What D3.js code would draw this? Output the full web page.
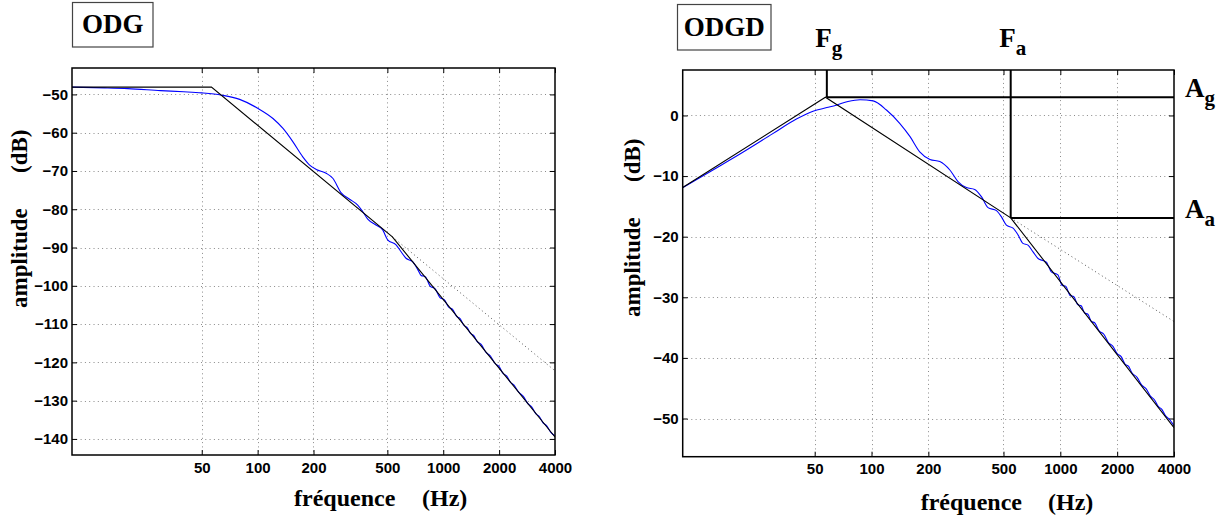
<!DOCTYPE html>
<html><head><meta charset="utf-8">
<script src="https://cdn.jsdelivr.net/npm/d3@7"></script>
<style>
body{margin:0;background:#fff;}
svg{display:block;}
.tk text{font-family:'Liberation Sans',Arial,sans-serif;font-weight:bold;font-size:15px;fill:#000;}
.lab{font-family:'Liberation Serif','Times New Roman',serif;font-weight:bold;fill:#000;}
</style></head><body>
<svg id="chart" width="1226" height="520"></svg>
<script>
// ---------- shared ----------
const xDomain = [10, 4000];
const xTicks = [50, 100, 200, 500, 1000, 2000, 4000];

// ---------- left panel (ODG) ----------
const yDomainL = [-144.2, -43.1];
const yTicksL = [-50, -60, -70, -80, -90, -100, -110, -120, -130, -140];
const asymFreqL = [10, 56.4, 532, 4000];
const asymDbL = [-48.1, -48.1, -87.2, -139.5];
const extFreqL = [532, 4000];
const extDbL = [-87.2, -122.2];
const blueFreqL = [10, 15, 20, 30, 40, 50, 64, 80, 100, 121, 137, 155, 175, 190, 207, 234, 254, 282, 313, 346, 368, 392, 434, 472, 502, 557, 593, 630, 684, 728, 760, 800, 850, 905, 960, 1015, 1070, 1125, 1180, 1235, 1290, 1345, 1400, 1460, 1520, 1600, 1700, 1800, 1900, 2000, 2100, 2200, 2300, 2400, 2550, 2700, 2850, 3000, 3150, 3300, 3450, 3600, 3800, 4000];
const blueDbL = [-48.1, -48.3, -48.5, -49.0, -49.3, -49.6, -50.2, -51.3, -53.6, -56.3, -58.9, -62.4, -66.3, -68.4, -69.6, -70.6, -71.9, -75.7, -77.4, -78.9, -80.6, -82.6, -84.1, -85.4, -88.0, -89.3, -91.1, -92.8, -93.7, -95.7, -97.3, -97.6, -100.1, -100.8, -103.1, -103.7, -105.6, -106.2, -108.0, -108.6, -110.3, -110.9, -112.4, -113.0, -114.5, -115.3, -117.4, -118.4, -120.3, -121.1, -122.9, -123.6, -125.2, -125.9, -127.8, -128.9, -130.7, -131.7, -133.4, -134.2, -135.8, -136.5, -138.3, -139.2];

// ---------- right panel (ODGD) ----------
const yDomainR = [-56.3, 7.5];
const yTicksR = [0, -10, -20, -30, -40, -50];
const asymFreqR = [10, 57, 546, 4000];
const asymDbR = [-11.9, 3.0, -16.9, -51.5];
const extFreqR = [546, 4000];
const extDbR = [-16.9, -34.0];
const blueFreqR = [10, 15, 20, 30, 40, 49, 58, 65, 75, 87, 102, 120, 141, 160, 180, 204, 230, 260, 287, 318, 352, 382, 414, 459, 487, 518, 562, 597, 634, 674, 717, 762, 800, 843, 896, 971, 1020, 1070, 1125, 1180, 1235, 1290, 1345, 1400, 1460, 1520, 1600, 1700, 1800, 1900, 2000, 2100, 2200, 2300, 2400, 2550, 2700, 2850, 3000, 3150, 3300, 3450, 3600, 3800, 4000];
const blueDbR = [-11.9, -8.7, -6.4, -3.0, -0.6, 0.7, 1.3, 1.7, 2.3, 2.6, 2.4, 0.9, -1.3, -3.5, -6.0, -7.25, -7.6, -9.0, -10.9, -11.9, -12.2, -13.4, -15.2, -15.7, -16.7, -18.1, -18.6, -19.7, -21.1, -21.4, -22.5, -23.6, -23.9, -24.2, -25.8, -26.3, -28.0, -28.2, -29.7, -29.9, -31.2, -31.4, -32.6, -32.8, -34.0, -34.2, -35.5, -36.1, -37.5, -38.1, -39.3, -39.8, -41.0, -41.4, -42.5, -43.2, -44.5, -45.1, -46.3, -46.9, -48.0, -48.5, -49.5, -50.2, -51.2];
const markerFreqs = [58, 546];        // Fg, Fa
const markerDbs = [3.0, -16.9];       // Ag, Aa
const markerFreqLabels = ["F", "F"];
const markerFreqSubs = ["g", "a"];
const markerDbLabels = ["A", "A"];
const markerDbSubs = ["g", "a"];

const svg = d3.select("#chart");

function panel(cfg) {
  const {x0, y0, w, h} = cfg;
  const x = d3.scaleLog().domain(xDomain).range([x0, x0 + w]);
  const y = d3.scaleLinear().domain(cfg.yDomain).range([y0 + h, y0]);
  const g = svg.append("g");
  const clipId = "clip" + cfg.id;
  svg.append("clipPath").attr("id", clipId).append("rect")
    .attr("x", x0).attr("y", y0).attr("width", w).attr("height", h);

  // grid
  const grid = g.append("g").attr("stroke", "#8a8a8a").attr("stroke-width", 1).attr("stroke-dasharray", "1,3.3");
  grid.selectAll(".gx").data(xTicks.filter(d => d < xDomain[1])).join("line")
    .attr("x1", d => Math.round(x(d)) + 0.5).attr("x2", d => Math.round(x(d)) + 0.5)
    .attr("y1", y0).attr("y2", y0 + h);
  grid.selectAll(".gy").data(cfg.yTicks).join("line")
    .attr("y1", d => Math.round(y(d)) + 0.5).attr("y2", d => Math.round(y(d)) + 0.5)
    .attr("x1", x0).attr("x2", x0 + w);

  const fmt = d3.format("d");
  const ax = (gen, tx, ty, labels, pad) => {
    const a = g.append("g").attr("class", "tk").attr("transform", `translate(${tx},${ty})`)
      .call(gen.tickSizeInner(-5).tickSizeOuter(0).tickPadding(pad).tickFormat(labels ? fmt : () => ""));
    a.select(".domain").remove();
    a.selectAll(".tick line").attr("stroke", "#000").attr("stroke-width", 1);
    return a;
  };
  ax(d3.axisBottom(x).tickValues(xTicks), 0, y0 + h, true, 7);
  ax(d3.axisTop(x).tickValues(xTicks), 0, y0, false, 0);
  ax(d3.axisLeft(y).tickValues(cfg.yTicks), x0, 0, true, cfg.ypad);
  ax(d3.axisRight(y).tickValues(cfg.yTicks), x0 + w, 0, false, 0);

  const plot = g.append("g").attr("clip-path", `url(#${clipId})`);
  const lineStraight = d3.line().x(d => x(d[0])).y(d => y(d[1]));
  const lineSmooth = d3.line().x(d => x(d[0])).y(d => y(d[1])).curve(d3.curveMonotoneX);

  plot.append("path").datum(cfg.extF.map((f, i) => [f, cfg.extD[i]]))
    .attr("d", lineStraight).attr("fill", "none").attr("stroke", "#555")
    .attr("stroke-width", 1).attr("stroke-dasharray", "1,3");
  plot.append("path").datum(cfg.blueF.map((f, i) => [f, cfg.blueD[i]]))
    .attr("d", lineSmooth).attr("fill", "none").attr("stroke", "#0000ff").attr("stroke-width", 1.1);
  plot.append("path").datum(cfg.asymF.map((f, i) => [f, cfg.asymD[i]]))
    .attr("d", lineStraight).attr("fill", "none").attr("stroke", "#000").attr("stroke-width", 1.1);

  if (cfg.markers) {
    markerFreqs.forEach((f, i) => {
      plot.append("line").attr("x1", x(f)).attr("x2", x(f)).attr("y1", y0).attr("y2", y(markerDbs[i]))
        .attr("stroke", "#000").attr("stroke-width", 2);
      plot.append("line").attr("x1", x(f)).attr("x2", x0 + w).attr("y1", y(markerDbs[i])).attr("y2", y(markerDbs[i]))
        .attr("stroke", "#000").attr("stroke-width", 2);
      const t = svg.append("text").attr("class", "lab").attr("x", x(f) + 2).attr("y", y0 - 23)
        .attr("text-anchor", "middle").style("font-size", "27px");
      t.append("tspan").text(markerFreqLabels[i]);
      t.append("tspan").attr("dy", 8).style("font-size", "21px").text(markerFreqSubs[i]);
      const t2 = svg.append("text").attr("class", "lab").attr("x", x0 + w + 11).attr("y", y(markerDbs[i]))
        .style("font-size", "27px");
      t2.append("tspan").text(markerDbLabels[i]);
      t2.append("tspan").attr("dy", 8).style("font-size", "21px").text(markerDbSubs[i]);
    });
  }

  // box
  g.append("rect").attr("x", x0).attr("y", y0).attr("width", w).attr("height", h)
    .attr("fill", "none").attr("stroke", "#000").attr("stroke-width", 1.5);

  // title box
  const tb = cfg.title;
  svg.append("rect").attr("x", tb.x).attr("y", tb.y).attr("width", tb.w).attr("height", tb.h)
    .attr("fill", "#fff").attr("stroke", "#444").attr("stroke-width", 1.2);
  svg.append("text").attr("class", "lab").attr("x", tb.x + tb.w / 2).attr("y", tb.base)
    .attr("text-anchor", "middle").style("font-size", "27px").text(tb.text);

  // axis labels
  const xl = cfg.xlab;
  svg.append("text").attr("class", "lab").attr("x", xl.x1).attr("y", xl.y).style("font-size", "24px").text("fréquence");
  svg.append("text").attr("class", "lab").attr("x", xl.x2).attr("y", xl.y).style("font-size", "24px").text("(Hz)");
  const yl = cfg.ylab;
  svg.append("text").attr("class", "lab").attr("transform", `translate(${yl.x},${yl.y1}) rotate(-90)`).style("font-size", "23px").text("amplitude");
  svg.append("text").attr("class", "lab").attr("transform", `translate(${yl.x},${yl.y2}) rotate(-90)`).style("font-size", "23px").text("(dB)");
}

panel({id: "L", x0: 72, y0: 68, w: 483, h: 387, yDomain: yDomainL, yTicks: yTicksL, ypad: 4,
  asymF: asymFreqL, asymD: asymDbL, extF: extFreqL, extD: extDbL, blueF: blueFreqL, blueD: blueDbL,
  title: {x: 72.5, y: 2.5, w: 80.5, h: 44.5, base: 33, text: "ODG"},
  xlab: {x1: 294, x2: 422, y: 506}, ylab: {x: 27, y1: 308, y2: 173}, markers: false});

panel({id: "R", x0: 682.7, y0: 70, w: 491.3, h: 386.7, yDomain: yDomainR, yTicks: yTicksR, ypad: 4,
  asymF: asymFreqR, asymD: asymDbR, extF: extFreqR, extD: extDbR, blueF: blueFreqR, blueD: blueDbR,
  title: {x: 677.5, y: 4.5, w: 93.5, h: 45.5, base: 36, text: "ODGD"},
  xlab: {x1: 920.7, x2: 1048, y: 510}, ylab: {x: 640, y1: 317, y2: 182}, markers: true});
</script>
</body></html>
